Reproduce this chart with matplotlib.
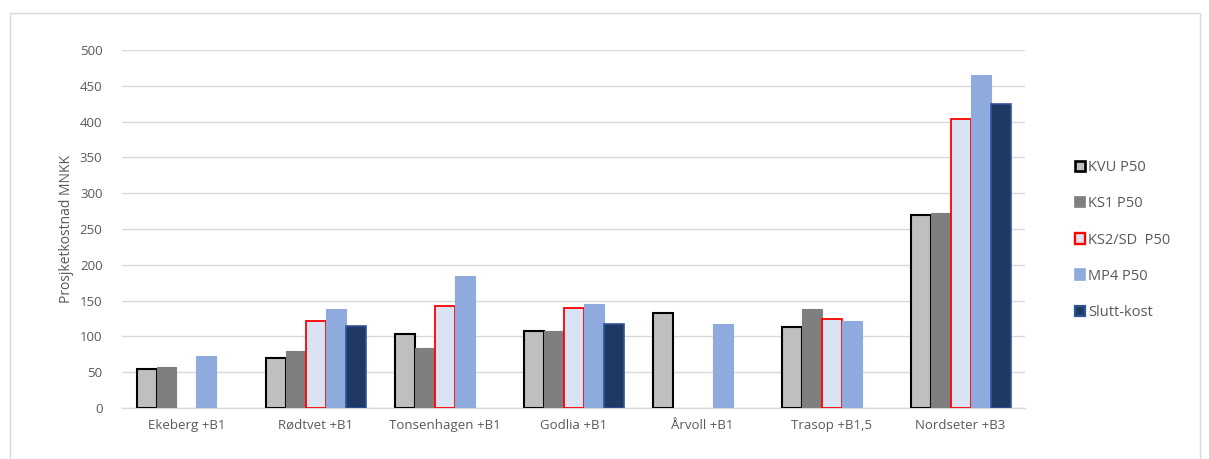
import numpy as np
import matplotlib
matplotlib.use("Agg")
import matplotlib.pyplot as plt
from matplotlib.patches import Patch, Rectangle

plt.rcParams['font.family'] = ['Open Sans', 'DejaVu Sans']

categories = ["Ekeberg +B1", "Rødtvet +B1", "Tonsenhagen +B1", "Godlia +B1",
              "Årvoll +B1", "Trasop +B1,5", "Nordseter +B3"]
series = ["KVU P50", "KS1 P50", "KS2/SD  P50", "MP4 P50", "Slutt-kost"]

kvu = [54, 70, 103, 107, 133, 113, 269]
ks1 = [57, 79, 84, 107, np.nan, 138, 272]
ks2 = [np.nan, 121, 143, 140, np.nan, 125, 404]
mp4 = [72, 138, 184, 145, 117, 121, 465]
slutt = [np.nan, 114, np.nan, 117, np.nan, np.nan, 424]

values = [kvu, ks1, ks2, mp4, slutt]
fills = ["#BFBFBF", "#7F7F7F", "#DAE3F3", "#8FAADC", "#203864"]
edges = ["#000000", "#7F7F7F", "#FF0000", "#8FAADC", "#2F5597"]
lws = [1.5, 0.8, 1.3, 0.8, 1.2]

text_color = "#595959"

fig = plt.figure(figsize=(12.09, 4.59), dpi=100)
ax = fig.add_axes([0.1009, 0.111, 0.7470, 0.780])

x = np.arange(len(categories))
w = 0.155
for i, (vals, fc, ec, lw) in enumerate(zip(values, fills, edges, lws)):
    off = (i - 2) * w
    ax.bar(x + off, vals, width=w, color=fc, edgecolor=ec, linewidth=lw,
           zorder=3)

ax.set_xlim(-0.5, len(categories) - 0.5)
ax.set_ylim(0, 500)
ax.set_yticks(np.arange(0, 501, 50))
ax.set_xticks(x)
ax.set_xticklabels(categories)
ax.tick_params(axis="both", length=0, colors=text_color, labelsize=9.5)
ax.tick_params(axis="y", pad=14)
ax.tick_params(axis="x", pad=8)
ax.grid(axis="y", color="#D9D9D9", linewidth=1.0, zorder=0)
for s in ["top", "right", "left"]:
    ax.spines[s].set_visible(False)
ax.spines["bottom"].set_color("#D9D9D9")
ax.spines["bottom"].set_linewidth(1.0)
ax.set_ylabel("Prosjketkostnad MNKK", color=text_color, fontsize=10,
              labelpad=4)

handles = [Patch(facecolor=fc, edgecolor=ec, linewidth=lw + 0.4)
           for fc, ec, lw in zip(fills, edges, lws)]
fig.legend(handles, series, loc="center left",
           bbox_to_anchor=(0.878, 0.477), frameon=False, fontsize=10.5,
           labelcolor=text_color, handlelength=0.7, handleheight=0.7,
           handletextpad=0.25, labelspacing=1.45)

fig.patches.append(Rectangle((10 / 1209, -0.01), 1190 / 1209, 1 - 13 / 459 + 0.01,
                             transform=fig.transFigure, fill=False,
                             edgecolor="#D9D9D9", linewidth=1.0))

fig.savefig("out.png", dpi=100)
